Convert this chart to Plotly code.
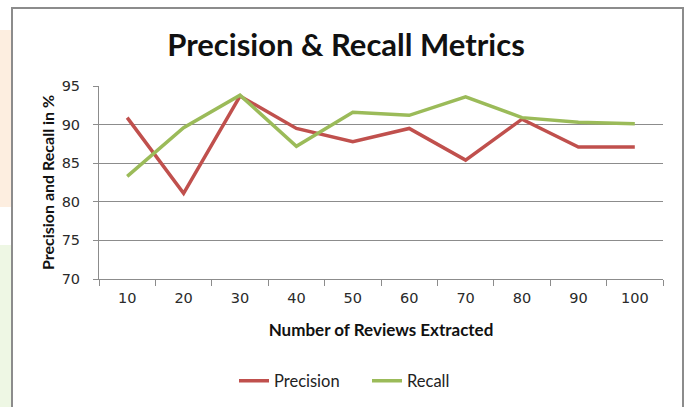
import plotly.graph_objects as go

reviews = ["10", "20", "30", "40", "50", "60", "70", "80", "90", "100"]
precision = [90.9, 81.1, 93.7, 89.5, 87.8, 89.5, 85.4, 90.7, 87.1, 87.1]
recall = [83.3, 89.6, 93.8, 87.2, 91.6, 91.2, 93.6, 90.9, 90.3, 90.1]
y_ticks = [70, 75, 80, 85, 90, 95]

FONT = "Lato"
TICKFONT = "DejaVu Sans"
GRID = "#8c8c8c"

fig = go.Figure()
fig.add_trace(go.Scatter(x=reviews, y=precision, mode="lines", name="Precision",
                         line=dict(color="#C0504D", width=3.5)))
fig.add_trace(go.Scatter(x=reviews, y=recall, mode="lines", name="Recall",
                         line=dict(color="#9BBB59", width=3.5)))

fig.update_layout(
    width=689, height=407,
    margin=dict(l=99, r=26, t=86, b=128),
    paper_bgcolor="white", plot_bgcolor="white",
    font=dict(family=FONT, color="#222222", size=13),
    title=dict(text="<b>Precision & Recall Metrics</b>", x=346 / 689, xanchor="center",
               xref="container", y=1 - 45 / 407, yanchor="middle",
               font=dict(family=FONT, size=31, color="#111111")),
    showlegend=True,
    legend=dict(orientation="h", x=234 / 689, xref="container", xanchor="left",
                y=1 - 381 / 407, yref="container", yanchor="middle",
                font=dict(family=FONT, size=16.5, color="#222222"),
                bgcolor="rgba(0,0,0,0)", itemwidth=30, entrywidth=88,
                entrywidthmode="pixels"),
    xaxis=dict(
        type="category", range=[-0.5, 9.5],
        tickson="boundaries", ticks="outside", ticklen=6, tickcolor=GRID,
        showline=True, linecolor=GRID, linewidth=1, showgrid=False,
        tickfont=dict(family=TICKFONT, size=14.5, color="#2a2a2a"),
        ticklabelstandoff=6,
        title=dict(text="<b>Number of Reviews Extracted</b>", standoff=18,
                   font=dict(family=FONT, size=17, color="#111111")),
    ),
    yaxis=dict(
        range=[70, 95], tickvals=y_ticks, ticks="outside", ticklen=5, tickcolor=GRID,
        showline=True, linecolor=GRID, linewidth=1,
        showgrid=True, gridcolor=GRID, gridwidth=1, zeroline=False,
        tickfont=dict(family=TICKFONT, size=14.5, color="#2a2a2a"),
        ticklabelstandoff=10,
        title=dict(text="<b>Precision and Recall in %</b>", standoff=3,
                   font=dict(family=FONT, size=16, color="#111111")),
    ),
    shapes=[
        dict(type="rect", xref="paper", yref="paper", layer="below",
             x0=-99 / 564, x1=-88 / 564, y0=(279 - 30) / 193, y1=(279 - 207) / 193,
             fillcolor="#FDEEE0", line=dict(width=0)),
        dict(type="rect", xref="paper", yref="paper", layer="below",
             x0=-99 / 564, x1=-88 / 564, y0=(279 - 245) / 193, y1=(279 - 420) / 193,
             fillcolor="#EEF7E4", line=dict(width=0)),
        dict(type="rect", xref="paper", yref="paper", layer="below",
             x0=-87 / 564, x1=(683 - 99) / 564, y0=(279 - 8) / 193, y1=(279 - 420) / 193,
             fillcolor="rgba(0,0,0,0)", line=dict(color="#8c8c8c", width=2)),
    ],
)

fig.write_html("out.html", config={"displayModeBar": False},
               post_script="document.body.style.margin='0';")
